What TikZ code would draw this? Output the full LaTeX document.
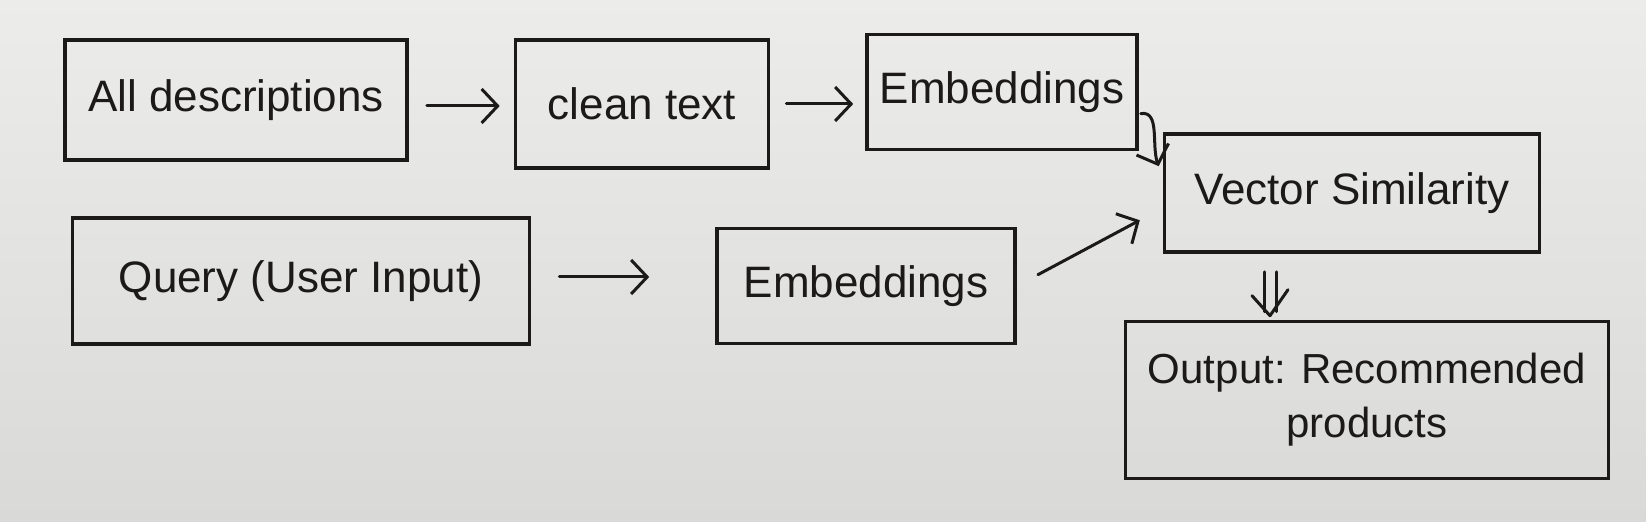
\documentclass[tikz,border=0pt]{standalone}
\usepackage{fontspec}
\setmainfont{Liberation Sans}
\usetikzlibrary{arrows.meta,calc}
\definecolor{ink}{HTML}{1C1A19}
\definecolor{paperTop}{HTML}{ECECEA}
\definecolor{paperBot}{HTML}{D9D9D7}
\tikzset{
  box/.style={draw=ink, line width=1.8pt, inner sep=0pt, text=ink, font=\fontsize{22}{26}\selectfont, align=center},
  arr/.style={draw=ink, line width=1.5pt, -{Straight Barb[length=8pt,width=17pt]}, line cap=round},
  pen/.style={draw=ink, line width=1.5pt, line cap=round, line join=round},
}
\begin{document}
\begin{tikzpicture}[x=0.5pt,y=-0.5pt]
\shade[top color=paperTop, bottom color=paperBot] (0,0) rectangle (1646,522);
\useasboundingbox (0,0) rectangle (1646,522);

\node[box, minimum width=171pt, minimum height=60pt] (b1) at (236,100) {All descriptions};
\node[box, minimum width=126.5pt, minimum height=64pt] (b2) at (642,104) {clean text};
\node[box, minimum width=135pt, minimum height=57.5pt] (b3) at (1002,92) {Embeddings};
\node[box, minimum width=187.5pt, minimum height=59pt] (b4) at (1352,193) {Vector Similarity};
\node[box, minimum width=228.5pt, minimum height=63pt] (b5) at (301,281) {Query (User Input)};
\node[box, minimum width=149pt, minimum height=57.5pt] (b6) at (866,286) {Embeddings};
\node[box, minimum width=241.5pt, minimum height=78.5pt, font=\fontsize{21}{25}\selectfont] (b7) at (1367,400) {Output: Recommended\\[2pt]products};

\draw[arr, shorten <=9pt, shorten >=7pt] ([yshift=-3pt]b1.east) -- ([yshift=-3pt]b1.east -| b2.west);
\draw[arr, shorten <=8pt, shorten >=6pt] (b2.east) -- (b2.east -| b3.west);
\draw[arr, shorten <=1pt] ([yshift=-11pt]b3.east) to[out=10, in=110] ([xshift=-2pt,yshift=-17pt]b4.north west);
\draw[arr, shorten <=14pt, shorten >=33pt] ([yshift=2pt]b5.east) -- ([yshift=2pt]b5.east -| b6.west);
\draw[arr, shorten <=12pt, shorten >=13pt] (b6.east) -- ([yshift=-7.5pt]b4.west);

\coordinate (dtop) at ([xshift=-41pt,yshift=-9pt]b4.south);
\coordinate (dbot) at ([xshift=-41pt,yshift=2pt]b4.south |- b7.north);
\draw[pen] ([xshift=-3pt]dtop) -- ([xshift=-3pt,yshift=2pt]dbot);
\draw[pen] ([xshift=3pt]dtop) -- ([xshift=3pt,yshift=2pt]dbot);
\draw[pen] ([xshift=-9pt,yshift=10pt]dbot) -- (dbot) -- ([xshift=9pt,yshift=13pt]dbot);
\end{tikzpicture}
\end{document}
